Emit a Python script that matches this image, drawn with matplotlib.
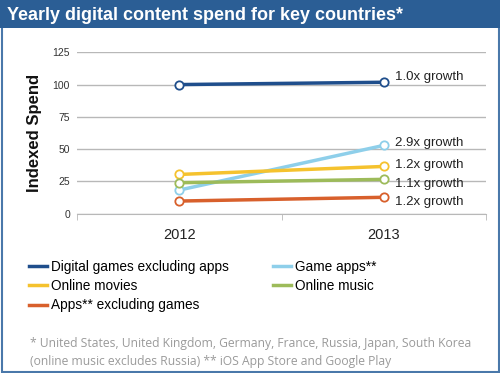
import matplotlib.pyplot as plt
from matplotlib.patches import Rectangle

# values (indexed spend, 2012 = base)
years = ["2012", "2013"]
series = ["Digital games excluding apps", "Game apps**", "Online movies",
          "Online music", "Apps** excluding games"]
digital_games = [100, 101.8]
game_apps = [18.3, 52.9]
online_movies = [30.4, 36.6]
online_music = [24.0, 26.6]
apps_ex_games = [9.8, 12.7]
growth_labels = ["1.0x growth", "2.9x growth", "1.2x growth", "1.1x growth", "1.2x growth"]

colors = ["#1f4e8c", "#8ecfea", "#f5c22e", "#9dbb5a", "#d8602c"]
values = [digital_games, game_apps, online_movies, online_music, apps_ex_games]
label_dy = [4, 1.5, 1, -3, -3.5]   # label nudges in points

fig = plt.figure(figsize=(5, 3.73), dpi=100)
plt.rcParams['font.family'] = ['Liberation Sans', 'DejaVu Sans']

# frame and title bar
fig.patches.append(Rectangle((0.003, 0.003), 0.994, 0.994, transform=fig.transFigure,
                             fill=False, edgecolor="#4a78aa", lw=1.5))
fig.patches.append(Rectangle((0, 1 - 28/373), 1, 28/373, transform=fig.transFigure,
                             facecolor="#2b5e95", edgecolor="none"))
fig.text(7/500, 1 - 15/373, "Yearly digital content spend for key countries*", color="white",
         fontsize=13, fontweight="bold", va="center", ha="left")

ax = fig.add_axes([77/500, 1 - 213.7/373, 409/500, 161.4/373])
x = list(range(len(years)))
for vals, c in zip(values, colors):
    ax.plot(x, vals, color=c, lw=2.5, marker="o", ms=6, mfc="white", mec=c, mew=1.3,
            zorder=3)

for vals, txt, dy in zip(values, growth_labels, label_dy):
    ax.annotate(txt, (x[-1], vals[-1]), xytext=(8, dy), textcoords="offset points",
                fontsize=9.5, color="#222222", va="center", ha="left")

ax.set_xlim(-0.5, 1.5)
ax.set_ylim(0, 125)
ax.set_yticks([0, 25, 50, 75, 100, 125])
ax.yaxis.grid(True, color="#b8b8b8", lw=1)
ax.set_axisbelow(True)
for s in ["top", "right", "left"]:
    ax.spines[s].set_visible(False)
ax.spines["bottom"].set_color("#b8b8b8")
ax.set_xticks(x)
ax.set_xticklabels(years, fontsize=10.5, color="#222222")
ax.set_xticks([-0.5, 0.5, 1.5], minor=True)
ax.tick_params(axis="x", which="major", length=0, pad=10)
ax.tick_params(axis="x", which="minor", length=4, color="#b8b8b8")
ax.tick_params(axis="y", length=0, labelsize=7.5, labelcolor="#333333", pad=5)

fig.text(35/500, 1 - 132.5/373, "Indexed Spend", rotation=90, fontsize=12,
         fontweight="bold", ha="center", va="center", color="#111111")

handles = [plt.Line2D([], [], color=c, lw=2.5) for c in colors]
order = [0, 2, 4, 1, 3]
fig.legend([handles[i] for i in order], [series[i] for i in order], ncol=2,
           loc="upper left", bbox_to_anchor=(29/500, 1 - 260/373), frameon=False,
           fontsize=9.8, handlelength=1.3, handletextpad=0.35, labelspacing=0.38,
           columnspacing=3.2, borderaxespad=0, borderpad=0)

fig.text(30/500, 1 - 343/373,
         "* United States, United Kingdom, Germany, France, Russia, Japan, South Korea",
         fontsize=8.7, color="#9a9a9a", va="center", family="Open Sans")
fig.text(30/500, 1 - 362/373,
         "(online music excludes Russia) ** iOS App Store and Google Play",
         fontsize=8.7, color="#9a9a9a", va="center", family="Open Sans")

fig.savefig("out.png", dpi=100)
